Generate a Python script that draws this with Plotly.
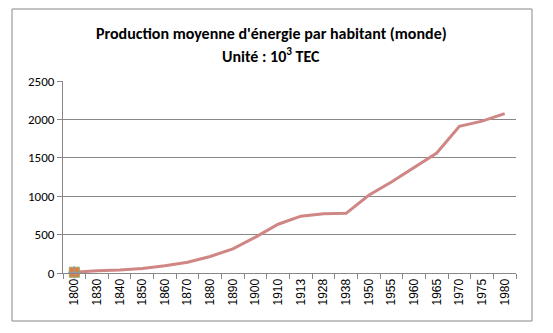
import plotly.graph_objects as go

# Production moyenne d'énergie par habitant (monde), en 10^3 TEC
annees = ["1800", "1830", "1840", "1850", "1860", "1870", "1880", "1890", "1900", "1910",
          "1913", "1928", "1938", "1950", "1955", "1960", "1965", "1970", "1975", "1980"]
production = [10, 30, 40, 60, 95, 140, 215, 315, 468, 635,
              740, 772, 777, 1012, 1185, 1372, 1562, 1910, 1978, 2075]
y_ticks = [0, 500, 1000, 1500, 2000, 2500]

W, H = 553, 333
L, R, T, B = 63, 516, 81, 273  # plot area in pixels


def px_x(p):
    return (p - L) / (R - L)


def px_y(p):
    return (B - p) / (B - T)


fig = go.Figure()

fig.add_trace(go.Scatter(
    x=annees, y=production, mode="lines",
    line=dict(color="#CF8684", width=3),
    hoverinfo="x+y", showlegend=False, cliponaxis=False,
))

# point de départ marqué
fig.add_trace(go.Scatter(
    x=annees[:1], y=production[:1], mode="markers",
    marker=dict(symbol="square", size=10, color="#E07E3C",
                line=dict(color="#9AA56A", width=1)),
    showlegend=False, hoverinfo="skip", cliponaxis=False,
))
fig.add_trace(go.Scatter(
    x=annees[:1], y=production[:1], mode="markers",
    marker=dict(symbol="cross-thin", size=9,
                line=dict(color="#8C9DB3", width=1)),
    showlegend=False, hoverinfo="skip", cliponaxis=False,
))

grey = "#878787"
tick_font = dict(family="Liberation Sans, Arial, sans-serif", size=12, color="#000000")

fig.update_xaxes(
    type="category", range=[-0.5, len(annees) - 0.5],
    showline=True, linecolor=grey, linewidth=1,
    ticks="outside", tickson="boundaries", ticklen=5, tickcolor=grey,
    tickangle=-90, tickfont=tick_font, showgrid=False, zeroline=False,
)
fig.update_yaxes(
    range=[0, 2500], tickvals=y_ticks,
    showline=True, linecolor=grey, linewidth=1,
    ticks="outside", ticklen=5, tickcolor=grey,
    showgrid=True, gridcolor=grey, gridwidth=1, zeroline=False,
    tickfont=dict(family="Carlito, Lato, sans-serif", size=13, color="#000000"),
)

title_font = dict(family="Carlito, Lato, sans-serif", size=16, color="#000000")
fig.add_annotation(
    text="<b>Production moyenne d'énergie par habitant (monde)</b>",
    xref="paper", yref="paper", x=px_x(271), y=px_y(34),
    xanchor="center", yanchor="middle", showarrow=False, font=title_font,
)
fig.add_annotation(
    text="<b>Unité : 10<sup>3</sup> TEC</b>",
    xref="paper", yref="paper", x=px_x(271), y=px_y(55),
    xanchor="center", yanchor="middle", showarrow=False, font=title_font,
)

# cadre du graphique
fig.add_shape(
    type="rect", xref="paper", yref="paper",
    x0=px_x(12), x1=px_x(532), y0=px_y(321), y1=px_y(9),
    line=dict(color=grey, width=1), fillcolor="rgba(0,0,0,0)", layer="below",
)

fig.update_layout(
    width=W, height=H,
    margin=dict(l=L, r=W - R, t=T, b=H - B),
    paper_bgcolor="#FFFFFF", plot_bgcolor="#FFFFFF",
    showlegend=False,
)

fig.write_html("out.html")
